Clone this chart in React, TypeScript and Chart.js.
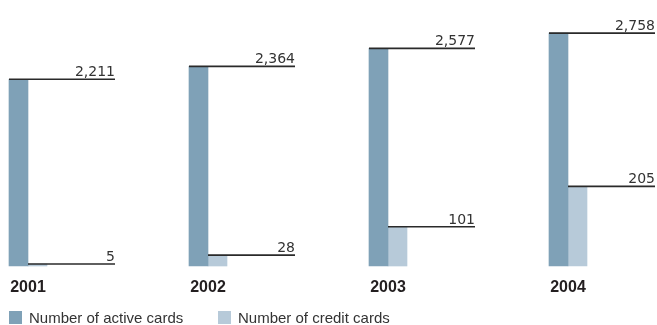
import React, { useEffect, useRef } from 'react';
import { Chart, registerables } from 'chart.js';

Chart.register(...registerables);

const years = ['2001', '2002', '2003', '2004'];
const activeCards = [2211, 2364, 2577, 2758];
const creditCards = [5, 28, 101, 205];
const seriesLabels = ['Number of active cards', 'Number of credit cards'];
const seriesColors = ['#7fa1b7', '#b7cad9'];

const fmt = (v: number) => v.toLocaleString('en-US');

const valueLinesPlugin = {
  id: 'valueLines',
  afterDatasetsDraw(chart: any) {
    const ctx = chart.ctx;
    const metas = [chart.getDatasetMeta(0), chart.getDatasetMeta(1)];
    ctx.save();
    metas[0].data.forEach((bar0: any, i: number) => {
      const p0 = bar0.getProps(['x', 'y', 'width'], true);
      const groupLeft = p0.x - p0.width / 2;
      const lineEnd = groupLeft + 106;
      metas.forEach((meta: any, di: number) => {
        const b = meta.data[i].getProps(['x', 'y', 'width'], true);
        const left = b.x - b.width / 2;
        const y = b.y;
        ctx.strokeStyle = '#2a2a2a';
        ctx.lineWidth = 1.6;
        ctx.beginPath();
        ctx.moveTo(left, y);
        ctx.lineTo(lineEnd, y);
        ctx.stroke();
        ctx.fillStyle = '#333333';
        ctx.font = '14px "DejaVu Sans"';
        ctx.textAlign = 'right';
        ctx.textBaseline = 'alphabetic';
        ctx.fillText(fmt(chart.data.datasets[di].data[i]), lineEnd, y - 3);
      });
    });
    ctx.restore();
  },
};

export default function App() {
  const canvasRef = useRef<HTMLCanvasElement | null>(null);

  useEffect(() => {
    if (!canvasRef.current) return;
    const chart = new Chart(canvasRef.current, {
      type: 'bar',
      data: {
        labels: years,
        datasets: [
          {
            label: seriesLabels[0],
            data: activeCards,
            backgroundColor: seriesColors[0],
            yAxisID: 'y',
            barThickness: 19,
            clip: false as any,
          },
          {
            label: seriesLabels[1],
            data: creditCards,
            backgroundColor: seriesColors[1],
            yAxisID: 'y2',
            barThickness: 19,
            clip: false as any,
          },
        ],
      },
      options: {
        animation: false,
        responsive: false,
        maintainAspectRatio: false,
        layout: { padding: { top: 0, bottom: 28, left: 0, right: 0 } },
        plugins: {
          legend: { display: false },
          tooltip: { enabled: false },
        },
        scales: {
          x: {
            offset: false,
            grid: { display: false, drawTicks: true, tickLength: 12 },
            border: { display: false },
            ticks: {
              padding: 0,
              color: '#231f20',
              font: { family: '"Liberation Sans", Arial, sans-serif', size: 16, weight: 'bold' },
              maxRotation: 0,
              autoSkip: false,
            },
            afterFit: (s: any) => {
              s.height = 31;
            },
          },
          y: {
            position: 'left',
            min: 0,
            max: 3150,
            grid: { display: false, drawTicks: false },
            border: { display: false },
            ticks: { display: false },
            afterFit: (s: any) => {
              s.width = 28;
            },
          },
          y2: {
            position: 'right',
            min: 0,
            max: 685,
            grid: { display: false, drawTicks: false },
            border: { display: false },
            ticks: { display: false },
            afterFit: (s: any) => {
              s.width = 89;
            },
          },
        },
      } as any,
      plugins: [valueLinesPlugin],
    });
    return () => chart.destroy();
  }, []);

  const legendX = [9, 218];

  return (
    <div style={{ position: 'fixed', left: 0, top: 0, width: 657, height: 325, background: '#ffffff' }}>
      <canvas ref={canvasRef} width={657} height={325} style={{ position: 'absolute', left: 0, top: 0, width: 657, height: 325 }} />
      {seriesLabels.map((lab, i) => (
        <div key={lab} style={{ position: 'absolute', left: legendX[i], top: 311, display: 'flex', alignItems: 'flex-start' }}>
          <div style={{ width: 13, height: 13, background: seriesColors[i] }} />
          <div
            style={{
              marginLeft: 7,
              marginTop: -1,
              font: '15px "Liberation Sans", Arial, sans-serif',
              lineHeight: '15px',
              color: '#333333',
              whiteSpace: 'nowrap',
            }}
          >
            {lab}
          </div>
        </div>
      ))}
    </div>
  );
}
